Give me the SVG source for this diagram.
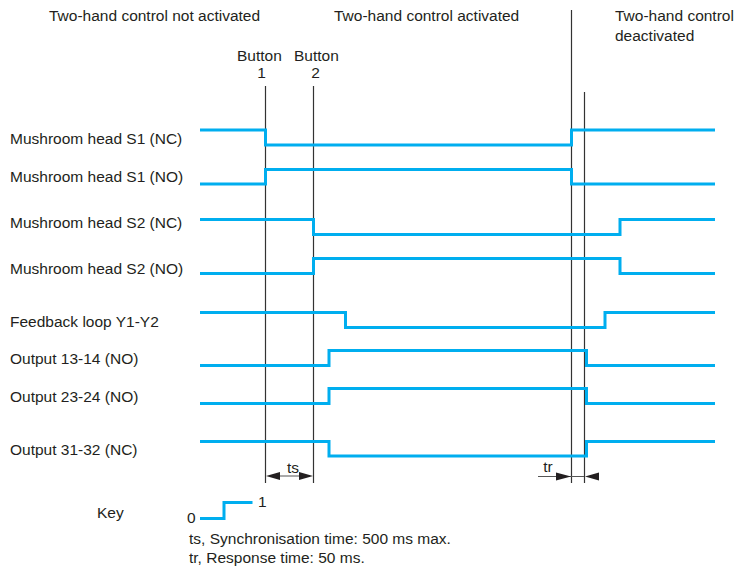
<svg xmlns="http://www.w3.org/2000/svg" width="737" height="571" viewBox="0 0 737 571">
<style>
text{font-family:"Liberation Sans",Arial,sans-serif;font-size:15.5px;fill:#231f20}
.sig{fill:none;stroke:#00aeef;stroke-width:3;stroke-linejoin:miter}
.vl{stroke:#333;stroke-width:1.2;fill:none}
.dim{stroke:#555;stroke-width:1;fill:none}
.ah{fill:#231f20}
</style>
<rect width="737" height="571" fill="#fff"/>
<g id="headers">
<text x="49" y="21">Two-hand control not activated</text>
<text x="334" y="21">Two-hand control activated</text>
<text x="615" y="21">Two-hand control</text>
<text x="615" y="40.5">deactivated</text>
<text x="237" y="61">Button</text>
<text x="261.5" y="77.5" text-anchor="middle">1</text>
<text x="294" y="61">Button</text>
<text x="315.5" y="77.5" text-anchor="middle">2</text>
</g>
<g id="connectors">
<line class="vl" x1="265.5" y1="86" x2="265.5" y2="483"/>
<line class="vl" x1="313.5" y1="86" x2="313.5" y2="483"/>
<line class="vl" x1="571.5" y1="10" x2="571.5" y2="483"/>
<line class="vl" x1="584.5" y1="92" x2="584.5" y2="483"/>
<line class="dim" x1="270" y1="476" x2="310" y2="476"/>
<polygon class="ah" points="266,476 280,472 280,480"/>
<polygon class="ah" points="313,476 299,472 299,480"/>
<line class="dim" x1="538" y1="476.5" x2="584" y2="476.5"/>
<polygon class="ah" points="571,476.5 556,472.5 556,480.5"/>
<polygon class="ah" points="585,476.5 599,472.5 599,480.5"/>
<text x="293" y="473" text-anchor="middle">ts</text>
<text x="548" y="472" text-anchor="middle">tr</text>
</g>
<g id="s1-nc"><text x="10" y="144">Mushroom head S1 (NC)</text><path class="sig" d="M200,130H265.5V145H571.5V130H715"/></g>
<g id="s1-no"><text x="10" y="182">Mushroom head S1 (NO)</text><path class="sig" d="M200,184H265.5V169.5H571.5V184H715"/></g>
<g id="s2-nc"><text x="10" y="228">Mushroom head S2 (NC)</text><path class="sig" d="M200,219.5H313.5V234.5H620V219.5H715"/></g>
<g id="s2-no"><text x="10" y="273.5">Mushroom head S2 (NO)</text><path class="sig" d="M200,273.5H313.5V258.5H620V273.5H715"/></g>
<g id="feedback"><text x="10" y="326.5">Feedback loop Y1-Y2</text><path class="sig" d="M200,312.5H345.5V327.5H605V312.5H715"/></g>
<g id="out-13-14"><text x="10" y="364">Output 13-14 (NO)</text><path class="sig" d="M200,365.5H329V350.5H586.5V365.5H715"/></g>
<g id="out-23-24"><text x="10" y="401.5">Output 23-24 (NO)</text><path class="sig" d="M200,403.5H329V388.5H586.5V403.5H715"/></g>
<g id="out-31-32"><text x="10" y="454.5">Output 31-32 (NC)</text><path class="sig" d="M200,441.5H329V456H586.5V441.5H715"/></g>
<g id="key">
<text x="97" y="518">Key</text>
<text x="187" y="522.5">0</text>
<path class="sig" d="M200,518.5H224V502.5H252.5"/>
<text x="258" y="507">1</text>
<text x="189" y="544">ts, Synchronisation time: 500 ms max.</text>
<text x="189" y="562.5">tr, Response time: 50 ms.</text>
</g>
</svg>
